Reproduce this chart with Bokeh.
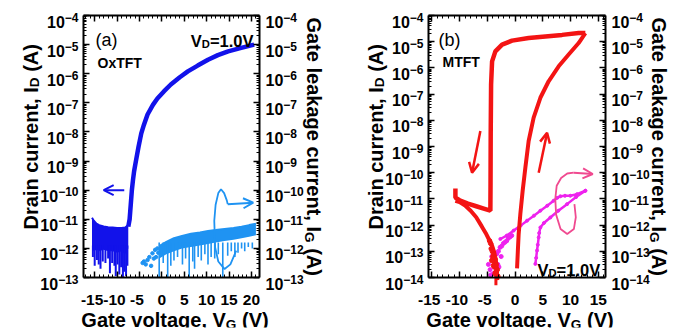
import math
from bokeh.plotting import figure
from bokeh.layouts import row
from bokeh.models import (Range1d, LinearAxis, LogAxis, FixedTicker, Label, Arrow,
                          OpenHead, CustomJSTickFormatter)
from bokeh.embed import file_html
from bokeh.resources import INLINE

FONT = "Liberation Sans"
BLUE = "#1212ea"
LBLUE = "#1f93f2"
RED = "#f31414"
MAG = "#ee22ee"
PINK = "#f04a90"

# ---------------- panel (a): OxTFT ----------------
a_xlim = [-17.5, 21.8]
a_xticks = [-15, -10, -5, 0, 5, 10, 15, 20]
a_xminor = list(range(-17, 22))
a_yexps = [-13, -12, -11, -10, -9, -8, -7, -6, -5, -4]

a_id_v = [-7.5, -7.2, -6.95, -6.7, -6.45, -6.2, -5.8, -5.2, -4.6, -4.0, -3.2, -2.0, -1.0,
          0.5, 2.0, 4.0, 5.8, 8.0, 10.3, 12.5, 14.8, 17.5, 20.6]
a_id_log = [-11.25, -11.0, -10.5, -10.0, -9.65, -9.35, -9.0, -8.5, -8.05, -7.75, -7.4, -7.07, -6.85,
            -6.6, -6.37, -6.12, -5.92, -5.72, -5.52, -5.36, -5.23, -5.12, -5.0]
a_floor_v = [-15.6, -15.2, -14.6, -14.0, -13.0, -12.0, -11.0, -10.0, -9.0, -8.2, -7.5]
a_floor_top = [-10.95, -11.05, -11.15, -11.2, -11.25, -11.27, -11.28, -11.3, -11.3, -11.28, -11.2]
a_floor_bot = [-12.0, -12.1, -12.05, -12.1, -12.05, -12.1, -12.1, -12.15, -12.1, -12.2, -12.0]
a_spk_v = [-15.4, -15.0, -14.5, -14.1, -13.7, -13.2, -12.6, -12.0, -11.6, -11.1, -10.6, -10.3,
           -9.9, -9.5, -9.1, -8.7, -8.4, -8.0, -7.7]
a_spk_lo = [-12.3, -12.6, -12.4, -12.55, -12.7, -12.45, -12.5, -12.35, -12.85, -12.5, -12.6, -12.95,
            -12.55, -12.9, -12.65, -13.0, -12.8, -12.95, -12.6]
a_ig_v = [-0.6, 1.0, 2.7, 4.5, 6.5, 8.5, 10.3, 12.0, 14.0, 16.0, 17.8, 19.5, 21.0]
a_ig_top = [-11.92, -11.78, -11.65, -11.57, -11.5, -11.45, -11.4, -11.37, -11.33, -11.3, -11.26, -11.2, -11.15]
a_ig_bot = [-12.35, -12.2, -12.1, -12.0, -11.95, -11.9, -11.85, -11.8, -11.75, -11.7, -11.65, -11.6, -11.55]
a_igspk_v = [-0.6, 0.3, 1.3, 2.0, 2.7, 3.5, 4.6, 5.3, 6.1, 6.9, 7.3, 8.1, 8.8, 9.6, 10.3, 11.0,
             11.8, 12.6, 13.6, 14.7, 15.5, 16.3, 17.0, 17.8, 18.5, 19.3, 20.2]
a_igspk_lo = [-13.0, -12.5, -13.0, -12.6, -12.42, -12.3, -12.55, -12.35, -13.0, -12.45, -12.7, -12.3,
              -12.42, -12.2, -12.55, -12.3, -12.35, -12.2, -13.0, -12.25, -12.1, -12.3, -12.15, -12.0,
              -12.1, -11.95, -12.0]
a_igdot_v = [-4.3, -4.0, -3.6, -3.2, -2.8, -2.4, -2.1, -1.8, -1.5, -1.3, -1.0, -0.8]
a_igdot_log = [-12.5, -12.45, -12.55, -12.4, -12.3, -12.6, -12.17, -12.35, -12.05, -12.3, -12.0, -12.15]
a_arrow_v = [-8.4, -13.0]
a_arrow_log = [-10.0, -10.0]
a_loop_v = [16.6, 15.3, 14.0, 12.6, 11.9, 11.7, 12.0, 12.6, 13.2, 13.9, 14.5, 14.7]
a_loop_log = [-12.08, -12.55, -12.71, -12.45, -11.97, -11.05, -10.5, -10.1, -9.97, -10.1, -10.35, -10.48]
a_loop_arrow_v = [14.7, 20.4]
a_loop_arrow_log = [-10.48, -10.43]

# ---------------- panel (b): MTFT ----------------
b_xlim = [-15.6, 16.3]
b_xticks = [-15, -10, -5, 0, 5, 10, 15]
b_xminor = list(range(-15, 17))
b_yexps = [-14, -13, -12, -11, -10, -9, -8, -7, -6, -5, -4]

b_fwd1_v = [-10.75, -10.0, -9.0, -8.0, -7.0, -6.0, -5.3, -4.7, -4.2, -3.8, -3.5, -3.3, -3.2]
b_fwd1_log = [-11.07, -11.12, -11.25, -11.45, -11.7, -12.05, -12.3, -12.55, -12.75, -13.0, -13.3, -13.6, -14.1]
b_fwd2_v = [0.36, 0.5, 0.65, 0.95, 1.37, 1.86, 2.45, 3.35, 4.56, 6.05, 7.86, 9.66, 11.46, 12.67]
b_fwd2_log = [-13.65, -13.0, -12.34, -11.58, -10.69, -9.8, -8.79, -7.9, -7.14, -6.51, -5.94, -5.49, -5.05, -4.67]
b_rev_v = [12.67, 11.46, 8.47, 5.46, 2.45, -0.54, -2.34, -3.55, -4.14, -4.32, -4.39, -4.42, -4.45,
           -5.5, -7.0, -8.5, -10.0, -10.75, -10.75]
b_rev_log = [-4.67, -4.67, -4.74, -4.80, -4.86, -4.96, -5.11, -5.37, -5.75, -6.63, -8.54, -10.5, -11.45,
             -11.38, -11.28, -11.18, -11.05, -10.95, -10.6]
b_rdot_v = [-4.6, -4.4, -4.3, -4.1, -4.0, -3.9, -3.8, -3.7, -3.6, -3.5, -3.4, -3.3, -3.2, -3.1, -3.6, -3.9, -4.2]
b_rdot_log = [-12.6, -12.7, -12.9, -13.0, -13.2, -13.1, -13.4, -13.6, -13.3, -13.8, -13.5, -13.9, -13.7,
              -13.95, -13.85, -13.55, -13.35]
b_rdrop_v = [-3.45, -3.45]
b_rdrop_log = [-13.3, -14.3]
b_mg1_v = [-2.65, -1.5, -0.25, 1.0, 2.16, 3.4, 4.56, 5.8, 6.95, 7.6, 8.16, 9.0, 9.96, 11.17, 12.67]
b_mg1_log = [-12.53, -12.4, -12.21, -12.02, -11.83, -11.64, -11.45, -11.26, -11.07, -10.96, -10.9,
             -10.88, -10.88, -10.82, -10.69]
b_mg2_v = [12.67, 11.0, 9.37, 7.8, 6.36, 5.2, 4.56, 4.35, 4.26, 4.1, 3.96, 3.8, 3.66]
b_mg2_log = [-10.69, -10.93, -11.2, -11.45, -11.71, -11.92, -12.09, -12.3, -12.47, -12.75, -12.97, -13.25, -13.48]
b_mdot_v = [-4.8, -4.5, -4.2, -3.9, -3.6, -3.3, -3.0, -2.7, -2.4, -2.1, -1.8, -1.5, -1.2, -0.9, -0.6,
            -3.7, -3.1, -2.5, -4.4, -2.9]
b_mdot_log = [-13.5, -13.7, -13.2, -13.85, -13.4, -13.1, -13.0, -12.85, -12.8, -12.7, -12.65, -12.6,
              -12.5, -12.45, -12.4, -13.6, -13.5, -13.2, -13.9, -13.6]
b_dn_v = [-6.25, -7.75]
b_dn_log = [-8.41, -10.0]
b_up_v = [4.26, 5.77]
b_up_log = [-10.0, -8.48]
b_loop_v = [10.7, 10.95, 10.6, 9.4, 8.2, 7.4, 7.25, 7.5, 8.3, 9.4, 10.56]
b_loop_log = [-11.2, -11.7, -12.15, -12.34, -12.15, -11.6, -11.0, -10.5, -10.2, -10.03, -10.0]
b_loop_arrow_v = [10.56, 14.0]
b_loop_arrow_log = [-10.0, -10.05]

# ---------------- text metrics (Arial/Liberation Bold widths, 1/1000 em) ----------------
WB = {' ': 278, ',': 278, '(': 333, ')': 333, '-': 333, '.': 278, '=': 584, '\u2212': 584,
      'A': 722, 'D': 722, 'F': 611, 'G': 778, 'I': 278, 'M': 833, 'O': 778, 'T': 611, 'V': 667,
      'a': 556, 'c': 556, 'e': 556, 'g': 611, 'i': 278, 'k': 556, 'l': 278, 'n': 611,
      'o': 611, 'r': 389, 't': 333, 'u': 611, 'v': 556, 'x': 556, 'y': 556}
for _d in "0123456789":
    WB[_d] = 556


def tw(s, size):
    return sum(WB.get(c, 556) for c in s) * size / 1000.0


def L10(a):
    return [10.0 ** v for v in a]


# each panel canvas is W x H; the plotting frame is inset by MB on every side
W, H, MB = 344, 332, 5


def make_panel(box, origin, xlim, yexps, xticks, xminor):
    """box: page coords (L, R, T, B) of the axes box; origin: page coords of the canvas."""
    L, R, T, B = box
    ox, oy = origin
    l, r, t, b = L - ox, R - ox, T - oy, B - oy
    v0, v1 = xlim
    e_bot, e_top = yexps[0], yexps[-1]
    kx = (v1 - v0) / (r - l)
    ky = (e_top - e_bot) / (b - t)
    xs = v0 - (l - MB) * kx
    xe = v1 + (W - MB - r) * kx
    ys = e_bot - (H - MB - b) * ky
    ye = e_top + (t - MB) * ky
    p = figure(width=W, height=H, x_range=Range1d(xs, xe), y_range=Range1d(10 ** ys, 10 ** ye),
               y_axis_type="log", output_backend="svg", toolbar_location=None, min_border=MB,
               min_border_left=MB, min_border_right=MB, min_border_top=MB, min_border_bottom=MB)
    p.grid.visible = False
    p.outline_line_color = None
    p.background_fill_color = "white"
    p.border_fill_color = "white"
    xt = FixedTicker(ticks=xticks, minor_ticks=xminor)
    yt = FixedTicker(ticks=[10.0 ** e for e in yexps],
                     minor_ticks=[m * 10.0 ** e for e in yexps[:-1] for m in range(2, 10)])
    yb = (10.0 ** e_bot, 10.0 ** e_top)
    p.xaxis.ticker = xt
    p.xaxis.bounds = (v0, v1)
    p.xaxis.fixed_location = 10.0 ** e_bot
    p.yaxis.ticker = yt
    p.yaxis.bounds = yb
    p.yaxis.fixed_location = v0
    p.add_layout(LinearAxis(ticker=xt, bounds=(v0, v1), fixed_location=10.0 ** e_top), "above")
    p.add_layout(LogAxis(ticker=yt, bounds=yb, fixed_location=v1), "right")
    for ax in p.axis:
        ax.axis_line_width = 2
        ax.axis_line_color = "black"
        ax.major_tick_in = 6
        ax.major_tick_out = 0
        ax.minor_tick_in = 3
        ax.minor_tick_out = 0
        ax.major_tick_line_width = 1.5
        ax.minor_tick_line_width = 1
        ax.major_tick_line_color = "black"
        ax.minor_tick_line_color = "black"
        ax.formatter = CustomJSTickFormatter(code="return ''")
        ax.major_label_text_font_size = "0px"
        ax.major_label_standoff = 0
    return dict(p=p, L=L, R=R, T=T, B=B, x0=v0, x1=v1, y0=10.0 ** e_bot)


def put(c, px, py, text, size, bold=True, align="left", angle=0.0, color="black"):
    c["p"].add_layout(Label(x=c["x0"], y=c["y0"], x_units="data", y_units="data",
                            x_offset=px - c["L"], y_offset=c["B"] - py, text=text, text_font=FONT,
                            text_font_size="%.1fpx" % size,
                            text_font_style="bold" if bold else "normal",
                            text_align=align, text_baseline="alphabetic", angle=angle,
                            text_color=color))


def rich(c, px, py, pieces, size, angle_deg=0, color="black"):
    if angle_deg == 0:
        d, n = (1, 0), (0, 1)
    elif angle_deg == 90:
        d, n = (0, -1), (1, 0)
    else:
        d, n = (0, 1), (-1, 0)
    adv = 0.0
    for txt, sub in pieces:
        s = size * 0.68 if sub else size
        sh = size * 0.2 if sub else 0.0
        lead = len(txt) - len(txt.lstrip(" "))
        adv += tw(" " * lead, s)
        t = txt.strip(" ")
        x = px + d[0] * adv + n[0] * sh
        y = py + d[1] * adv + n[1] * sh
        put(c, x, y, t, s, True, "left", math.radians(angle_deg), color)
        adv += tw(t, s)


def rich_width(pieces, size):
    return sum(tw(t, size * 0.68 if s else size) for t, s in pieces)


def ytick_labels(c, exps, side):
    p = c["p"]
    for e in exps:
        ex = "\u2212" + str(-e)
        w_ex = tw(ex, 12)
        if side == "left":
            x = c["x0"]
            xo = -5 - w_ex
        else:
            x = c["x1"]
            xo = 6 + tw("10", 16)
        p.add_layout(Label(x=x, y=10.0 ** e, x_offset=xo, y_offset=-6, text="10",
                           text_align="right", text_baseline="alphabetic", text_font=FONT,
                           text_font_size="16px", text_font_style="bold", text_color="black"))
        p.add_layout(Label(x=x, y=10.0 ** e, x_offset=xo, y_offset=-1.5, text=ex,
                           text_align="left", text_baseline="alphabetic", text_font=FONT,
                           text_font_size="12px", text_font_style="bold", text_color="black"))


def xtick_labels(c, ticks):
    p = c["p"]
    for t in ticks:
        s = str(t)
        xo = -tw("-", 15.5) / 2 if t < 0 else 0
        p.add_layout(Label(x=t, y=c["y0"], x_offset=xo, y_offset=-22, text=s,
                           text_align="center", text_baseline="alphabetic", text_font=FONT,
                           text_font_size="15.5px", text_font_style="bold", text_color="black"))


def arrow(p, xs, ys, color, width=2, size=10):
    p.add_layout(Arrow(end=OpenHead(size=size, line_color=color, line_width=width),
                       x_start=xs[0], y_start=10.0 ** ys[0], x_end=xs[1], y_end=10.0 ** ys[1],
                       line_color=color, line_width=width))


# ---------------- figure (a) ----------------
cA = make_panel((83, 259, 15, 277), (0, 0), a_xlim, a_yexps, a_xticks, a_xminor)
pA = cA["p"]

pA.varea(x=a_ig_v, y1=L10(a_ig_top), y2=L10(a_ig_bot), fill_color=LBLUE)
pA.line(a_ig_v, L10(a_ig_top), line_color=LBLUE, line_width=2)
pA.segment(x0=a_igspk_v, y0=[10.0 ** -11.8] * len(a_igspk_v), x1=a_igspk_v, y1=L10(a_igspk_lo),
           line_color=LBLUE, line_width=1.6)
pA.scatter(a_igdot_v, L10(a_igdot_log), size=3.5, color=LBLUE)

pA.varea(x=a_floor_v, y1=L10(a_floor_top), y2=L10(a_floor_bot), fill_color=BLUE)
pA.line(a_floor_v, L10(a_floor_top), line_color=BLUE, line_width=2)
pA.segment(x0=a_spk_v, y0=[10.0 ** -11.9] * len(a_spk_v), x1=a_spk_v, y1=L10(a_spk_lo),
           line_color=BLUE, line_width=2)
pA.line(a_id_v, L10(a_id_log), line_color=BLUE, line_width=4.5)

arrow(pA, a_arrow_v, a_arrow_log, BLUE, 2, 10)
pA.line(a_loop_v, L10(a_loop_log), line_color=LBLUE, line_width=1.8)
arrow(pA, a_loop_arrow_v, a_loop_arrow_log, LBLUE, 2, 10)

ytick_labels(cA, a_yexps, "left")
ytick_labels(cA, a_yexps, "right")
xtick_labels(cA, a_xticks)
rich(cA, 30, 229, [("Drain current, I", 0), ("D", 1), (" (A)", 0)], 20, 90)
rich(cA, 313, 17, [("Gate leakage current, I", 0), ("G", 1), (" (A)", 0)], 20, -90)
xl = [("Gate voltage, V", 0), ("G", 1), (" (V)", 0)]
rich(cA, 174.5 - rich_width(xl, 20) / 2, 319.5, xl, 20, 0)
put(cA, 95, 39, "(a)", 18, bold=False)
put(cA, 97, 62, "OxTFT", 14)
vd = [("V", 0), ("D", 1), ("=1.0V", 0)]
rich(cA, 253 - rich_width(vd, 16.5), 40, vd, 16.5, 0)

# ---------------- figure (b) ----------------
cB = make_panel((428, 605, 15, 277), (W, 0), b_xlim, b_yexps, b_xticks, b_xminor)
pB = cB["p"]

pB.line(b_mg1_v, L10(b_mg1_log), line_color=MAG, line_width=2.5)
pB.scatter(b_mg1_v, L10(b_mg1_log), size=3, color=MAG)
pB.line(b_mg2_v, L10(b_mg2_log), line_color=MAG, line_width=2.5)
pB.scatter(b_mg2_v, L10(b_mg2_log), size=3, color=MAG)
pB.scatter(b_mdot_v, L10(b_mdot_log), size=4, color=MAG)

pB.line(b_fwd1_v, L10(b_fwd1_log), line_color=RED, line_width=4)
pB.scatter(b_rdot_v, L10(b_rdot_log), size=4.5, color=RED)
pB.line(b_rdrop_v, L10(b_rdrop_log), line_color=RED, line_width=3)
pB.line(b_fwd2_v, L10(b_fwd2_log), line_color=RED, line_width=4)
pB.line(b_rev_v, L10(b_rev_log), line_color=RED, line_width=4.5)

arrow(pB, b_dn_v, b_dn_log, RED, 2.5, 10)
arrow(pB, b_up_v, b_up_log, RED, 2.5, 10)
pB.line(b_loop_v, L10(b_loop_log), line_color=PINK, line_width=1.8)
arrow(pB, b_loop_arrow_v, b_loop_arrow_log, PINK, 2, 10)

ytick_labels(cB, b_yexps, "left")
ytick_labels(cB, b_yexps, "right")
xtick_labels(cB, b_xticks)
rich(cB, 375, 229, [("Drain current, I", 0), ("D", 1), (" (A)", 0)], 20, 90)
rich(cB, 658, 17, [("Gate leakage current, I", 0), ("G", 1), (" (A)", 0)], 20, -90)
rich(cB, 519.5 - rich_width(xl, 20) / 2, 319.5, xl, 20, 0)
put(cB, 438, 39, "(b)", 18, bold=False)
put(cB, 442, 61, "MTFT", 14)
rich(cB, 537, 269, vd, 16.5, 0)

layout = row(pA, pB)
open("out.html", "w").write(file_html(layout, INLINE))
